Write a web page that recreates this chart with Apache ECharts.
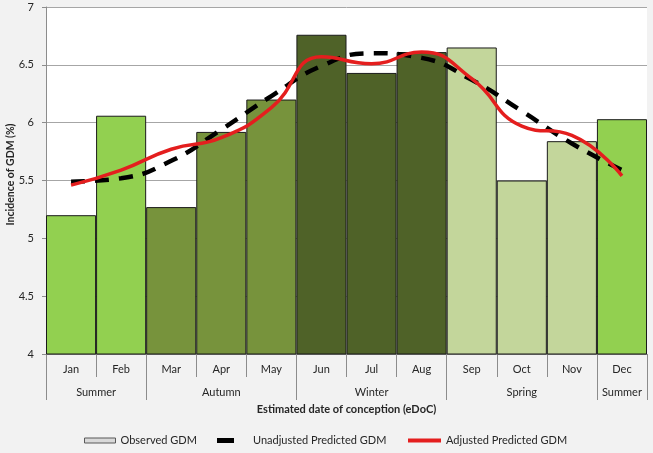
<!DOCTYPE html>
<html><head><meta charset="utf-8">
<script src="https://cdn.jsdelivr.net/npm/echarts@6/dist/echarts.min.js"></script>
<style>html,body{margin:0;padding:0;background:#f2f2f2}#c{width:653px;height:453px}</style>
</head><body><div id="c"></div><script>
const months = ['Jan','Feb','Mar','Apr','May','Jun','Jul','Aug','Sep','Oct','Nov','Dec'];
const observed = [5.20, 6.06, 5.27, 5.92, 6.20, 6.76, 6.43, 6.61, 6.65, 5.50, 5.84, 6.03];
const unadjusted = [5.49, 5.52, 5.67, 5.94, 6.23, 6.49, 6.60, 6.56, 6.37, 6.10, 5.82, 5.59];
const adjusted = [5.46, 5.59, 5.77, 5.87, 6.13, 6.57, 6.51, 6.61, 6.38, 5.97, 5.89, 5.54];
const monthSeason = ['Summer','Summer','Autumn','Autumn','Autumn','Winter','Winter','Winter','Spring','Spring','Spring','Summer'];
const seasonSpans = [['Summer',2],['Autumn',3],['Winter',3],['Spring',3],['Summer',1]];
const yTicks = [4, 4.5, 5, 5.5, 6, 6.5, 7];

const seasonColors = {Summer:'#92d050', Autumn:'#77933c', Winter:'#4f6228', Spring:'#c3d69b'};
const FONT = 'Lato';
const TXT = '#262626';
const AX = '#8c8c8c';

// season label centres and boundaries derived from spans
const seasonAt = {};
const boundaries = [];
let acc = 0;
seasonSpans.forEach(([name, n]) => { boundaries.push(acc); seasonAt[acc + n / 2] = name; acc += n; });

const chart = echarts.init(document.getElementById('c'), null, {renderer:'canvas'});
chart.setOption({
  animation: false,
  grid: {left:46, right:6, top:7, bottom:99, show:true, backgroundColor:'#ffffff', borderWidth:0, outerBoundsMode:'none'},
  legend: [
    {data:[{name:'Observed GDM', icon:'rect', itemStyle:{color:'#d9d9d9', borderColor:'#595959', borderWidth:1}}],
     left:84, top:435, padding:0, itemWidth:31, itemHeight:5, selectedMode:false,
     textStyle:{fontFamily:FONT, fontSize:11, color:TXT}},
    {data:[{name:'Unadjusted Predicted GDM', icon:'path://M0,0L17,0L17,5L0,5Z M31,0L31,0', itemStyle:{color:'#000', borderWidth:0}}],
     left:217, top:435, padding:0, itemWidth:31, itemHeight:5, selectedMode:false,
     textStyle:{fontFamily:FONT, fontSize:11, color:TXT}},
    {data:[{name:'Adjusted Predicted GDM', icon:'rect', itemStyle:{color:'#e41e1e', borderWidth:0}}],
     left:408, top:435, padding:0, itemWidth:33, itemHeight:4, selectedMode:false,
     textStyle:{fontFamily:FONT, fontSize:11, color:TXT}}
  ],
  xAxis: [
    {type:'category', data:months, position:'bottom',
     axisLine:{show:true, lineStyle:{color:AX}},
     axisTick:{show:true, length:23, interval:0, lineStyle:{color:AX}},
     axisLabel:{interval:0, margin:10, fontSize:11, color:TXT, fontFamily:FONT},
     splitLine:{show:false},
     name:'Estimated date of conception (eDoC)', nameLocation:'middle', nameGap:50, nameMoveOverlap:false,
     nameTextStyle:{fontWeight:'bold', fontSize:11, color:TXT, fontFamily:FONT}},
    {type:'category', data:months, position:'bottom',
     axisLine:{show:false},
     axisTick:{show:true, length:46, interval:(i) => boundaries.indexOf(i) >= 0, lineStyle:{color:AX}},
     axisLabel:{show:false}, splitLine:{show:false}},
    {type:'value', min:0, max:12, interval:0.5, position:'bottom',
     axisLine:{show:false}, axisTick:{show:false}, splitLine:{show:false},
     axisLabel:{margin:33, fontSize:11, color:TXT, fontFamily:FONT, formatter:(v) => seasonAt[v] || ''}}
  ],
  yAxis: {type:'value', min:yTicks[0], max:yTicks[yTicks.length-1], interval:0.5,
    axisLine:{show:true, lineStyle:{color:AX}},
    axisTick:{show:true, length:4, lineStyle:{color:AX}},
    axisLabel:{margin:12, fontSize:11, color:TXT, fontFamily:FONT},
    splitLine:{show:true, lineStyle:{color:'#a6a6a6', width:1}},
    name:'Incidence of GDM (%)', nameLocation:'middle', nameGap:30, nameMoveOverlap:false,
    nameTextStyle:{fontWeight:'bold', fontSize:10.5, color:TXT, fontFamily:FONT, padding:[0,0,0,12]}},
  series: [
    {name:'Observed GDM', type:'bar', xAxisIndex:0, barCategoryGap:'0%',
     data: observed.map((v, i) => ({value:v, itemStyle:{color:seasonColors[monthSeason[i]]}})),
     itemStyle:{borderColor:'#1a1a1a', borderWidth:1}, z:2},
    {name:'Unadjusted Predicted GDM', type:'line', xAxisIndex:0, data:unadjusted, smooth:true, symbol:'none',
     itemStyle:{color:'#000'}, lineStyle:{color:'#000', width:4.5, type:[14,10]}, z:3},
    {name:'Adjusted Predicted GDM', type:'line', xAxisIndex:0, data:adjusted, smooth:true, symbol:'none',
     itemStyle:{color:'#e41e1e'}, lineStyle:{color:'#e41e1e', width:3.5}, z:4}
  ]
});
</script></body></html>
